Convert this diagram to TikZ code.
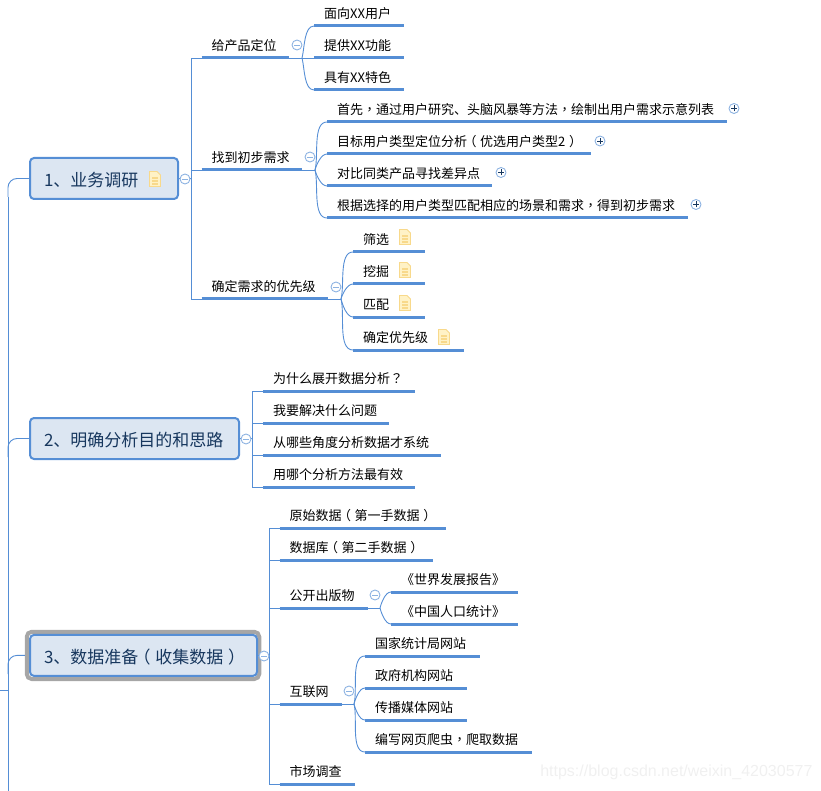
\documentclass[tikz,border=0pt]{standalone}
\usepackage{fontspec}
\setmainfont{Noto Sans CJK SC}
\newfontfamily\punctfont{Noto Sans CJK TC}
\newfontfamily\markfont{Liberation Sans}
\newcommand{\pmk}[1]{{\punctfont #1}}
\newcommand{\opn}{\kern-.28em（\kern.28em}
\newcommand{\cls}{\kern.28em）\kern-.28em}
\usetikzlibrary{calc}

\definecolor{branchblue}{HTML}{558ED5}
\definecolor{rootfill}{HTML}{DCE6F2}
\definecolor{rootink}{HTML}{17375E}
\definecolor{togglering}{HTML}{8DB3E2}
\definecolor{notefill}{HTML}{FFF2C6}
\definecolor{noteedge}{HTML}{F8D98B}

\tikzset{
	uline/.style={draw=branchblue, line width=3pt},
	conn/.style={draw=branchblue, line width=0.9pt},
	rootbox/.style={draw=branchblue, line width=2pt, fill=rootfill, rounded corners=4pt, anchor=west, text=rootink, font=\fontsize{17pt}{20pt}\selectfont, minimum height=41pt, inner xsep=14pt, inner ysep=0pt, align=left, text height=19pt, text depth=3pt, text width=#1-28pt},
	halobox/.style={draw=black!35, line width=4pt, fill=white, rounded corners=5pt, inner sep=0pt, minimum width=232.5pt, minimum height=47.25pt},
	leaf/.style={anchor=south west, inner xsep=10pt, inner ysep=0pt, text height=12pt, text depth=7pt, text width=#1-20pt, font=\fontsize{13pt}{15pt}\selectfont, append after command={(\tikzlastnode.south west) edge[uline] (\tikzlastnode.south east)}},
	foldup/.style={conn, out=75, in=180, looseness=.75},
	folddn/.style={conn, out=-75, in=180, looseness=.75},
	togglem/.style={circle, draw=togglering, line width=0.9pt, fill=white, minimum size=10pt, inner sep=0pt, path picture={\draw[togglering, line width=0.9pt] ($(path picture bounding box.center)+(-3pt,0)$) -- ++(6pt,0);}},
	togglep/.style={circle, draw=togglering, line width=0.9pt, fill=white, minimum size=10pt, inner sep=0pt, path picture={\draw[rootink, line width=0.9pt] ($(path picture bounding box.center)+(-3pt,0)$) -- ++(6pt,0) ($(path picture bounding box.center)+(0,-3pt)$) -- ++(0,6pt);}},
	noteicon/.pic={
		\fill[notefill, draw=noteedge, line width=0.9pt] (-5.5,-7.5) -- (2,-7.5) -- (5.5,-4) -- (5.5,7.5) -- (-5.5,7.5) -- cycle;
		\draw[noteedge, line width=1.2pt] (-3,-1) -- (3,-1) (-3,2) -- (3,2) (-3,5) -- (3,5);
	}
}

\begin{document}
\begin{tikzpicture}[x=1pt, y=-1pt]
	\useasboundingbox (0,0) rectangle (821,791);

	% main spine on the left
	\node[rootbox=148pt] (rootA) at (29,178.5) {1、业务调研};
	\node[rootbox=209pt] (rootB) at (29,438.5) {2、明确分析目的和思路};
	\node[halobox] (haloC) at (143,655.4) {};
	\node[rootbox=227pt] (rootC) at (29,655.4) {3、数据准备\opn 收集数据\cls};

	\coordinate (spineA) at (8,197);
	\coordinate (spineB) at (8,457);
	\coordinate (spineC) at (8,674);
	\coordinate (spineEnd) at (8,791);
	\coordinate (stub) at (0,690.5);
	\draw[conn] (spineA) -- (spineEnd);
	\draw[conn] (stub) -- (stub -| spineEnd);
	\draw[conn, rounded corners=9pt] (spineA) |- (rootA.west);
	\draw[conn, rounded corners=9pt] (spineB) |- (rootB.west);
	\draw[conn, rounded corners=9pt] (spineC) |- (haloC.west);

	% 1
	\node[leaf=87.5pt] (needA) at (201.5,58) {给产品定位};
	\node[leaf=100.5pt] (needB) at (201.5,170) {找到初步需求};
	\node[leaf=126.5pt] (needC) at (201.5,299) {确定需求的优先级};
	\foreach \n in {needA,needB,needC}
		\draw[conn] (rootA.east) -- ++(12,0) |- (\n.south west);

	\node[leaf=90pt] (posA) at (314,26) {面向XX用户};
	\node[leaf=90pt] (posB) at (314,58) {提供XX功能};
	\node[leaf=90pt] (posC) at (314,90) {具有XX特色};
	\coordinate (posJ) at (302,58);
	\draw[conn] (needA.south east) -- (posB.south west);
	\draw[foldup] (posJ) to (posA.south west);
	\draw[folddn] (posJ) to (posC.south west);

	\node[leaf=400pt] (findA) at (327,122) {首先\pmk{，}通过用户研究、头脑风暴等方法\pmk{，}绘制出用户需求示意列表};
	\node[leaf=264pt] (findB) at (327,154) {目标用户类型定位分析\opn 优选用户类型2\cls};
	\node[leaf=165pt] (findC) at (327,186) {对比同类产品寻找差异点};
	\node[leaf=361pt] (findD) at (327,218) {根据选择的用户类型匹配相应的场景和需求\pmk{，}得到初步需求};
	\coordinate (findJ) at (315,170);
	\draw[conn] (needB.south east) -- (findJ);
	\foreach \n in {findA,findB}
		\draw[foldup] (findJ) to (\n.south west);
	\foreach \n in {findC,findD}
		\draw[folddn] (findJ) to (\n.south west);

	\node[leaf=72pt] (rankA) at (353,252) {筛选};
	\node[leaf=72pt] (rankB) at (353,284) {挖掘};
	\node[leaf=72pt] (rankC) at (353,317) {匹配};
	\node[leaf=111pt] (rankD) at (353,350) {确定优先级};
	\coordinate (rankJ) at (341,299);
	\draw[conn] (needC.south east) -- (rankJ);
	\foreach \n in {rankA,rankB}
		\draw[foldup] (rankJ) to (\n.south west);
	\foreach \n in {rankC,rankD}
		\draw[folddn] (rankJ) to (\n.south west);

	% 2
	\node[leaf=152pt] (whyA) at (263,391) {为什么展开数据分析\pmk{？}};
	\node[leaf=126pt] (whyB) at (263,423) {我要解决什么问题};
	\node[leaf=178pt] (whyC) at (263,455) {从哪些角度分析数据才系统};
	\node[leaf=152pt] (whyD) at (263,487) {用哪个分析方法最有效};
	\foreach \n in {whyA,whyB,whyC,whyD}
		\draw[conn] (rootB.east) -- ++(12.5,0) |- (\n.south west);

	% 3
	\node[leaf=166pt] (dataA) at (279.5,528) {原始数据\opn 第一手数据\cls};
	\node[leaf=153pt] (dataB) at (279.5,560) {数据库\opn 第二手数据\cls};
	\node[leaf=88pt] (dataC) at (279.5,608) {公开出版物};
	\node[leaf=62pt] (dataD) at (279.5,704) {互联网};
	\node[leaf=75pt] (dataE) at (279.5,784) {市场调查};
	\foreach \n in {dataA,dataB,dataC,dataD,dataE}
		\draw[conn] (rootC.east) -- ++(11.5,0) |- (\n.south west);

	\node[leaf=127pt] (bookA) at (391,592) {《世界发展报告》};
	\node[leaf=127pt] (bookB) at (391,624) {《中国人口统计》};
	\coordinate (bookJ) at (380,608);
	\draw[conn] (dataC.south east) -- (bookJ);
	\draw[foldup] (bookJ) to (bookA.south west);
	\draw[folddn] (bookJ) to (bookB.south west);

	\node[leaf=115pt] (webA) at (365,656) {国家统计局网站};
	\node[leaf=102pt] (webB) at (365,688) {政府机构网站};
	\node[leaf=102pt] (webC) at (365,720) {传播媒体网站};
	\node[leaf=167pt] (webD) at (365,752) {编写网页爬虫\pmk{，}爬取数据};
	\coordinate (webJ) at (354,704);
	\draw[conn] (dataD.south east) -- (webJ);
	\foreach \n in {webA,webB}
		\draw[foldup] (webJ) to (\n.south west);
	\foreach \n in {webC,webD}
		\draw[folddn] (webJ) to (\n.south west);

	% toggles
	\node[togglem] (tgRootA) at (185,179) {};
	\node[togglem] (tgRootB) at (246,439) {};
	\node[togglem] (tgRootC) at (264,656) {};
	\node[togglem] (tgNeedA) at (297,45) {};
	\node[togglem] (tgNeedB) at (310,157) {};
	\node[togglem] (tgNeedC) at (336,287) {};
	\node[togglem] (tgDataC) at (375,595) {};
	\node[togglem] (tgDataD) at (349,691) {};
	\node[togglep] (tgFindA) at (734,108.5) {};
	\node[togglep] (tgFindB) at (600,141) {};
	\node[togglep] (tgFindC) at (501,172.5) {};
	\node[togglep] (tgFindD) at (696,204.5) {};

	% notes
	\foreach \px/\py in {155/179, 405/237, 405/270, 405/303, 444/337}
		\pic at (\px,\py) {noteicon};

	\node[text=black!6, font=\markfont\fontsize{16pt}{18pt}\selectfont, anchor=east] (stamp) at (816,772) {https://blog.csdn.net/weixin\_42030577};
\end{tikzpicture}
\end{document}
